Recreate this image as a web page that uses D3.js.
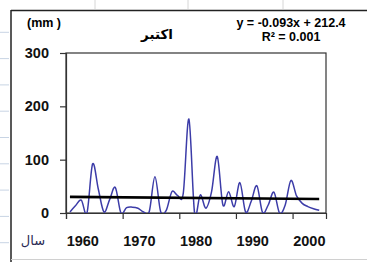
<!DOCTYPE html>
<html>
<head>
<meta charset="utf-8">
<script src="https://cdn.jsdelivr.net/npm/d3@7"></script>
<style>
  html, body { margin: 0; padding: 0; background: #fff; }
  svg { display: block; }
  text { font-family: "Liberation Sans", Arial, sans-serif; }
  .fa { font-family: "DejaVu Sans", sans-serif; }
</style>
</head>
<body>
<div id="chart"></div>
<script>
// monthly rainfall, October (mm)
const years = [1958, 1959, 1960, 1961, 1962, 1963, 1964, 1965, 1966, 1967,
  1968, 1969, 1970, 1971, 1972, 1973, 1974, 1975, 1976, 1977,
  1978, 1979, 1980, 1981, 1982, 1983, 1984, 1985, 1986, 1987,
  1988, 1989, 1990, 1991, 1992, 1993, 1994, 1995, 1996, 1997,
  1998, 1999, 2000, 2001, 2002];
const rain = [2, 14, 24, 0, 92, 45, 2, 25, 48, 0,
  10, 11, 9, 2, 3, 68, 3, 5, 40, 33,
  37, 176, 0, 34, 9, 40, 106, 15, 40, 12,
  57, 2, 22, 51, 1, 15, 39, 0, 15, 61,
  32, 18, 12, 8, 5];

// linear trend end points (y = -0.093x + 212.4)
const trendYears = [1958, 2002];
const trendValues = [30.3, 26.2];

const yTicks = [0, 100, 200, 300];
const xTicks = [1957.3, 1967.3, 1977.3, 1987.3, 1997.3];
const xLabels = [1960, 1970, 1980, 1990, 2000];

const W = 367, H = 262;
const plot = { left: 66, right: 326, top: 53, bottom: 213 };

const svg = d3.select("#chart").append("svg")
  .attr("width", W)
  .attr("height", H);

// sheet grid behind the chart
const rowLines = d3.range(9).map(i => 32.3 + i * 26.3);
svg.selectAll(".row")
  .data(rowLines)
  .enter().append("line")
  .attr("x1", 0).attr("x2", 9)
  .attr("y1", d => d).attr("y2", d => d)
  .attr("stroke", "#c8d4e4");
svg.selectAll(".col")
  .data([95, 188, 283])
  .enter().append("line")
  .attr("x1", d => d).attr("x2", d => d)
  .attr("y1", 0).attr("y2", 9)
  .attr("stroke", "#d6d6d6");

// chart frame
svg.append("line").attr("x1", 11).attr("x2", W).attr("y1", 10.5).attr("y2", 10.5)
  .attr("stroke", "#222").attr("stroke-width", 1.5);
svg.append("line").attr("x1", 11).attr("x2", 11).attr("y1", 10).attr("y2", H)
  .attr("stroke", "#222").attr("stroke-width", 1.5);
svg.append("line").attr("x1", 11).attr("x2", W).attr("y1", 259.5).attr("y2", 259.5)
  .attr("stroke", "#d0d0d0");

const x = d3.scaleLinear().domain([1957.3, 2003.2]).range([plot.left, plot.right]);
const y = d3.scaleLinear().domain([0, 300]).range([plot.bottom, plot.top]);

svg.append("clipPath").attr("id", "clip")
  .append("rect")
  .attr("x", plot.left).attr("y", plot.top)
  .attr("width", plot.right - plot.left)
  .attr("height", plot.bottom - plot.top);

// plot area box
svg.append("rect")
  .attr("x", plot.left).attr("y", plot.top)
  .attr("width", plot.right - plot.left)
  .attr("height", plot.bottom - plot.top)
  .attr("fill", "#fff")
  .attr("stroke", "#333")
  .attr("stroke-width", 1.2);

const yAxis = svg.append("g")
  .attr("transform", `translate(${plot.left},0)`)
  .call(d3.axisLeft(y).tickValues(yTicks).tickSize(6).tickPadding(11));
yAxis.select(".domain").attr("stroke", "#333").attr("stroke-width", 1.2);
yAxis.selectAll(".tick line").attr("stroke", "#333").attr("stroke-width", 1.2);
yAxis.selectAll(".tick text")
  .attr("font-size", 14.5).attr("font-weight", "bold").attr("fill", "#111")
  .style("font-family", "'Liberation Sans', Arial, sans-serif");

const xAxis = svg.append("g")
  .attr("transform", `translate(0,${plot.bottom})`)
  .call(d3.axisBottom(x).tickValues(xTicks).tickSize(6).tickFormat(""));
xAxis.select(".domain").attr("stroke", "#333").attr("stroke-width", 1.2);
xAxis.selectAll(".tick line").attr("stroke", "#333").attr("stroke-width", 1.2);

// year labels sit under the decades, not under the ticks
svg.selectAll(".xlab")
  .data(xLabels)
  .enter().append("text")
  .attr("x", d => x(d) + 1.5)
  .attr("y", 246)
  .attr("text-anchor", "middle")
  .attr("font-size", 14.5)
  .attr("font-weight", "bold")
  .attr("fill", "#111")
  .text(d => d);

const g = svg.append("g").attr("clip-path", "url(#clip)");

// excel-like smoothing
const line = d3.line()
  .x((d, i) => x(years[i]))
  .y(d => y(d))
  .curve(d3.curveCatmullRom.alpha(0));

g.append("path")
  .datum(rain)
  .attr("d", line)
  .attr("fill", "none")
  .attr("stroke", "#3c3ca8")
  .attr("stroke-width", 1.5);

g.append("line")
  .attr("x1", x(trendYears[0])).attr("x2", x(trendYears[1]))
  .attr("y1", y(trendValues[0])).attr("y2", y(trendValues[1]))
  .attr("stroke", "#000")
  .attr("stroke-width", 2.6);

// texts
svg.append("text")
  .attr("x", 44).attr("y", 27)
  .attr("text-anchor", "middle")
  .attr("font-size", 12.5).attr("font-weight", "bold")
  .text("(mm )");

svg.append("text")
  .attr("class", "fa")
  .attr("x", 157).attr("y", 39)
  .attr("text-anchor", "middle")
  .attr("font-size", 13.5).attr("font-weight", "bold")
  .text("اکتبر");

svg.append("text")
  .attr("x", 291).attr("y", 27)
  .attr("text-anchor", "middle")
  .attr("font-size", 12.5).attr("font-weight", "bold")
  .text("y = -0.093x + 212.4");

svg.append("text")
  .attr("x", 291).attr("y", 41)
  .attr("text-anchor", "middle")
  .attr("font-size", 12.5).attr("font-weight", "bold")
  .text("R² = 0.001");

svg.append("text")
  .attr("class", "fa")
  .attr("x", 33).attr("y", 245)
  .attr("text-anchor", "middle")
  .attr("font-size", 13)
  .attr("fill", "#2a2a55")
  .text("سال");
</script>
</body>
</html>
